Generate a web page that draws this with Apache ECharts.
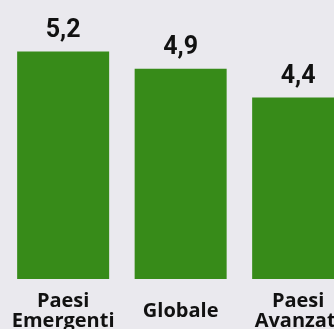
<!DOCTYPE html>
<html>
<head>
<meta charset="utf-8">
<script src="https://cdn.jsdelivr.net/npm/echarts@6/dist/echarts.min.js"></script>
<style>
html,body{margin:0;padding:0;background:#eae9ee;}
#c{width:334px;height:329px;}
</style>
</head>
<body>
<div id="c"></div>
<script>
const categories = ['Paesi\nEmergenti', 'Globale', 'Paesi\nAvanzati'];
const values = [5.2, 4.9, 4.4];

const chart = echarts.init(document.getElementById('c'), null, {renderer: 'canvas'});
chart.setOption({
  backgroundColor: '#eae9ee',
  animation: false,
  grid: {left: 4.4, width: 352.5, top: 5.5, bottom: 50, containLabel: false, outerBoundsMode: 'none'},
  xAxis: {
    type: 'category',
    data: categories,
    axisLine: {show: false},
    axisTick: {show: false},
    axisLabel: {
      interval: 0,
      margin: 32,
      verticalAlign: 'middle',
      hideOverlap: false,
      fontFamily: 'Open Sans',
      fontWeight: 'bold',
      fontSize: 20,
      lineHeight: 20,
      color: '#111111'
    }
  },
  yAxis: {
    type: 'value',
    min: 1.24,
    max: 6,
    show: false,
    splitLine: {show: false}
  },
  series: [{
    type: 'bar',
    data: values,
    barWidth: 92,
    itemStyle: {color: '#378b19'},
    label: {
      show: true,
      position: 'top',
      distance: 8,
      formatter: p => String(p.value).replace('.', ','),
      fontFamily: 'Roboto',
      fontWeight: 'bold',
      fontSize: 25,
      color: '#111111'
    }
  }]
});
</script>
</body>
</html>
